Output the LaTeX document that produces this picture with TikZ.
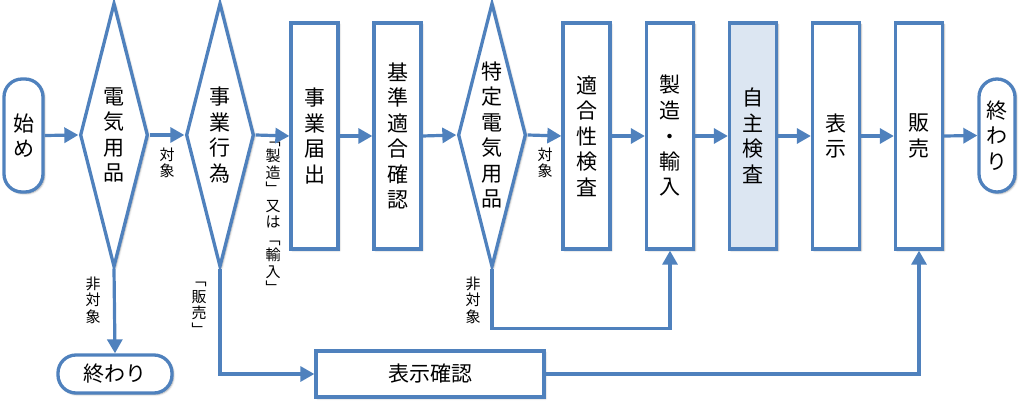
\documentclass[tikz,border=0pt]{standalone}
\usepackage{fontspec}
\newfontfamily\jp{Noto Sans CJK JP}
\usetikzlibrary{shapes.geometric,arrows.meta,shadows.blur}
\definecolor{bl}{RGB}{79,129,189}
\definecolor{fillb}{RGB}{220,230,242}
\newcommand\bigtxt{\jp\fontsize{21}{25.5}\selectfont}
\newcommand\smalltxt{\jp\fontsize{15}{16.5}\selectfont}
\begin{document}
\begin{tikzpicture}[x=1pt,y=-1pt,
  shade/.style={blur shadow={shadow xshift=1.6pt,shadow yshift=-1.6pt,shadow opacity=35,shadow blur radius=1.8pt}},
  box/.style={draw=bl,line width=3.3pt,fill=white,inner sep=0pt,align=center,font=\bigtxt,
    minimum width=47pt,minimum height=226pt,shade},
  dia/.style={shape=diamond,aspect=0.26,draw=bl,line width=3.3pt,fill=white,inner sep=0pt,
    align=center,font=\bigtxt,minimum width=68pt,minimum height=264pt,shade},
  term/.style={draw=bl,line width=3.3pt,fill=white,inner sep=0pt,align=center,font=\bigtxt,
    rounded corners=18pt,shade},
  lbl/.style={inner sep=0pt,align=center,font=\smalltxt},
  conn/.style={draw=bl,line width=3.2pt,-{Triangle[length=14pt,width=15pt]}}]
\useasboundingbox (0,0) rectangle (1025,403);

\node[term,minimum width=39pt,minimum height=113pt] (start) at (23.5,135.5) {始\\め};
\node[dia] (d1) at (114,135) {電\\気\\用\\品};
\node[dia] (d2) at (220,135) {事\\業\\行\\為};
\node[box] (reg) at (314.5,136) {事\\業\\届\\出};
\node[box] (std) at (397.5,136) {基\\準\\適\\合\\確\\認};
\node[dia] (d3) at (492,135) {特\\定\\電\\気\\用\\品};
\node[box] (conf) at (586.5,136) {適\\合\\性\\検\\査};
\node[box] (mi) at (670,136) {製\\造\\・\\輸\\入};
\node[box,fill=fillb] (self) at (753,136) {自\\主\\検\\査};
\node[box] (disp) at (836,136) {表\\示};
\node[box] (sell) at (919,136) {販\\売};
\node[term,minimum width=36pt,minimum height=113pt] (end2) at (997,135.5) {終\\わ\\り};
\node[term,minimum width=114pt,minimum height=38pt] (end1) at (115,374) {終わり};
\node[box,minimum width=228pt,minimum height=46pt] (chk) at (430,374) {表示確認};

\node[lbl] (l1) at (167,163) {対\\象};
\node[lbl] (l2) at (273,218) {﹁\\製\\造\\﹂\\又\\は\\﹁\\輸\\入\\﹂};
\node[lbl] (l3) at (93,300) {非\\対\\象};
\node[lbl] (l4) at (199,309) {﹁\\販\\売\\﹂};
\node[lbl] (l5) at (473,300) {非\\対\\象};
\node[lbl] (l6) at (545,163) {対\\象};

\draw[conn] (start.east) -- (d1.west);
\draw[conn] (d1.east) -- (d2.west);
\draw[conn] (d2.east) -- (reg.west);
\draw[conn] (reg.east) -- (std.west);
\draw[conn] (std.east) -- (d3.west);
\draw[conn] (d3.east) -- (conf.west);
\draw[conn] (conf.east) -- (mi.west);
\draw[conn] (mi.east) -- (self.west);
\draw[conn] (self.east) -- (disp.west);
\draw[conn] (disp.east) -- (sell.west);
\draw[conn] (sell.east) -- (end2.west);
\draw[conn] (d1.south) -- (end1.north);
\draw[conn] (d2.south) |- (chk.west);
\draw[conn] (d3.south) -- ++(0,60) -| (mi.south);
\draw[conn] (chk.east) -| (sell.south);
\end{tikzpicture}
\end{document}
